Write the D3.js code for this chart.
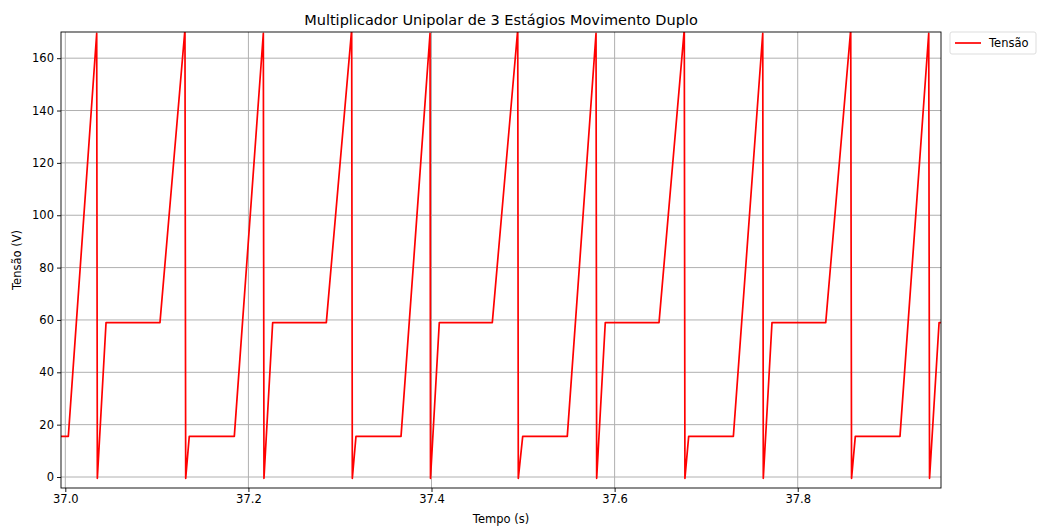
<!DOCTYPE html>
<html>
<head>
<meta charset="utf-8">
<script src="https://cdn.jsdelivr.net/npm/d3@7"></script>
<style>
  html, body { margin: 0; padding: 0; background: #fff; }
  svg { display: block; font-family: "DejaVu Sans", sans-serif; }
</style>
</head>
<body>
<svg id="chart" width="1042" height="530"></svg>
<script>
// ---- data ----
const times = [
  36.9953, 37.0033, 37.0343, 37.0350, 37.0445, 37.1034, 37.1307, 37.1315, 37.1354, 37.1846,
  37.2163, 37.2170, 37.2265, 37.2851, 37.3128, 37.3135, 37.3175, 37.3667,
  37.3984, 37.3989, 37.4085, 37.4664, 37.4942, 37.4948, 37.4996, 37.5483,
  37.5797, 37.5804, 37.5898, 37.6485, 37.6761, 37.6768, 37.6809, 37.7297,
  37.7618, 37.7624, 37.7719, 37.8306, 37.8579, 37.8588, 37.8629, 37.9117,
  37.9431, 37.9440, 37.9544, 37.9577
];
const voltages = [
  15.5, 15.5, 169.5, -0.5, 59, 59, 171, -0.5, 15.5, 15.5,
  169.5, -0.5, 59, 59, 171, -0.5, 15.5, 15.5,
  169.5, -0.5, 59, 59, 171, -0.5, 15.5, 15.5,
  169.5, -0.5, 59, 59, 171, -0.5, 15.5, 15.5,
  169.5, -0.5, 59, 59, 171, -0.5, 15.5, 15.5,
  169.5, -0.5, 59, 59
];
const xTicks = [37.0, 37.2, 37.4, 37.6, 37.8];
const yTicks = [0, 20, 40, 60, 80, 100, 120, 140, 160];
const xDomain = [36.9953, 37.9565];
const yDomain = [-4.2, 170];
const titleText = "Multiplicador Unipolar de 3 Estágios Movimento Duplo";
const xLabel = "Tempo (s)";
const yLabel = "Tensão (V)";
const seriesName = "Tensão";

// ---- layout ----
const L = 61, R = 941, T = 32, B = 488;
const svg = d3.select("#chart");
const x = d3.scaleLinear().domain(xDomain).range([L, R]);
const y = d3.scaleLinear().domain(yDomain).range([B, T]);
const data = times.map((t, i) => ({t, v: voltages[i]}));

svg.append("defs").append("clipPath").attr("id", "clip")
  .append("rect").attr("x", L).attr("y", T).attr("width", R - L).attr("height", B - T);

// grid
const grid = svg.append("g");
grid.selectAll(".gx").data(xTicks).enter().append("line")
  .attr("x1", d => x(d)).attr("x2", d => x(d)).attr("y1", T).attr("y2", B)
  .attr("stroke", "#b0b0b0").attr("stroke-width", 1);
grid.selectAll(".gy").data(yTicks).enter().append("line")
  .attr("x1", L).attr("x2", R).attr("y1", d => y(d)).attr("y2", d => y(d))
  .attr("stroke", "#b0b0b0").attr("stroke-width", 1);

// line
svg.append("path").datum(data)
  .attr("clip-path", "url(#clip)")
  .attr("fill", "none").attr("stroke", "#ff0000").attr("stroke-width", 1.7)
  .attr("stroke-linejoin", "round")
  .attr("d", d3.line().x(d => x(d.t)).y(d => y(d.v)));

// axes
const xAxis = d3.axisBottom(x).tickValues(xTicks).tickFormat(d3.format(".1f")).tickSize(4).tickPadding(3);
const yAxis = d3.axisLeft(y).tickValues(yTicks).tickFormat(d3.format("d")).tickSize(4).tickPadding(3);
const gx = svg.append("g").attr("transform", `translate(0,${B})`).call(xAxis);
const gy = svg.append("g").attr("transform", `translate(${L},0)`).call(yAxis);
[gx, gy].forEach(g => {
  g.select(".domain").remove();
  g.selectAll("line").attr("stroke", "#000").attr("stroke-width", 0.9);
  g.selectAll("text").attr("fill", "#000").style("font-size", "11.5px").style("font-family", "DejaVu Sans");
});

// frame
svg.append("rect").attr("x", L).attr("y", T).attr("width", R - L).attr("height", B - T)
  .attr("fill", "none").attr("stroke", "#000").attr("stroke-width", 0.9);

// title & labels
svg.append("text").attr("x", (L + R) / 2).attr("y", 25).attr("text-anchor", "middle")
  .style("font-size", "14.5px").attr("fill", "#000").text(titleText);
svg.append("text").attr("x", (L + R) / 2).attr("y", 523).attr("text-anchor", "middle")
  .style("font-size", "11.5px").attr("fill", "#000").text(xLabel);
svg.append("text").attr("transform", `translate(21,${(T + B) / 2}) rotate(-90)`).attr("text-anchor", "middle")
  .style("font-size", "11.5px").attr("fill", "#000").text(yLabel);

// legend
const lg = svg.append("g").attr("transform", "translate(950,32)");
lg.append("rect").attr("x", 0).attr("y", 0).attr("width", 86).attr("height", 22).attr("rx", 2)
  .attr("fill", "#fff").attr("stroke", "#d9d9d9").attr("stroke-width", 0.9);
lg.append("line").attr("x1", 5).attr("x2", 31).attr("y1", 11).attr("y2", 11)
  .attr("stroke", "#ff0000").attr("stroke-width", 1.7);
lg.append("text").attr("x", 39).attr("y", 15).style("font-size", "11.5px").attr("fill", "#000").text(seriesName);
</script>
</body>
</html>
